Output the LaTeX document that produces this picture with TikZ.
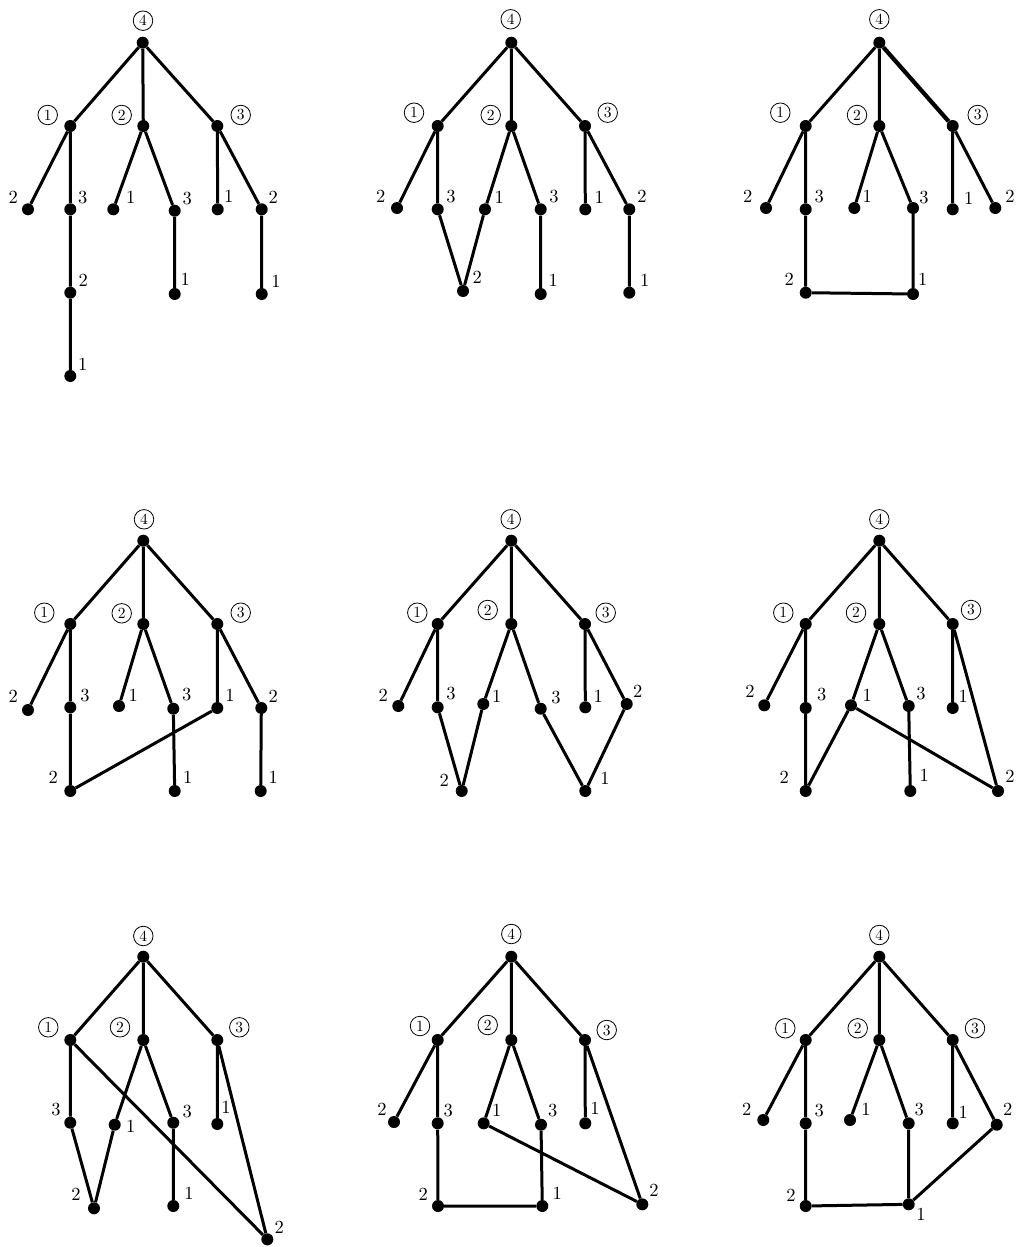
\documentclass[tikz,border=0pt]{standalone}
\newcommand\dg[1]{\scalebox{1.85}{#1}}
\newcommand\cg[1]{\scalebox{1.55}{#1}}
\begin{document}
\begin{tikzpicture}[x=1pt,y=-1pt,
  dot/.style={circle,fill=black,inner sep=0pt,minimum size=12pt},
  lnk/.style={line width=3pt},
  num/.style={inner sep=0pt,font=\fontsize{10}{12}\selectfont},
  cnum/.style={circle,draw,line width=0.8pt,inner sep=0pt,minimum size=19.5pt,font=\fontsize{10}{12}\selectfont}]
\useasboundingbox (0,0) rectangle (1016,1247);
% ---------- Panel 1 ----------
\node[dot] (p1r) at (142.7,42.7) {}; \node[cnum] (p1rl) at (143,20.7) {\cg{4}};
\node[dot] (p1a) at (70.3,126) {}; \node[cnum] (p1al) at (47.7,115) {\cg{1}};
\node[dot] (p1b) at (143.3,126) {}; \node[cnum] (p1bl) at (121.7,115) {\cg{2}};
\node[dot] (p1c) at (217.3,126) {}; \node[cnum] (p1cl) at (240.7,115) {\cg{3}};
\node[dot] (p1a2) at (28,209.3) {}; \node[num] (p1a2t) at (13.3,197.3) {\dg{2}};
\node[dot] (p1a3) at (70.3,209.3) {}; \node[num] (p1a3t) at (82.7,197.3) {\dg{3}};
\node[dot] (p1b1) at (113.3,209.3) {}; \node[num] (p1b1t) at (130.7,197.3) {\dg{1}};
\node[dot] (p1b3) at (174.7,210.7) {}; \node[num] (p1b3t) at (187.3,198.7) {\dg{3}};
\node[dot] (p1c1) at (217.7,209.3) {}; \node[num] (p1c1t) at (228.7,196.7) {\dg{1}};
\node[dot] (p1c2) at (261.7,209.3) {}; \node[num] (p1c2t) at (273.3,197.3) {\dg{2}};
\node[dot] (p1a32) at (70.3,292.7) {}; \node[num] (p1a32t) at (83.3,280) {\dg{2}};
\node[dot] (p1a321) at (70.3,376) {}; \node[num] (p1a321t) at (82.7,364) {\dg{1}};
\node[dot] (p1b31) at (174.7,294) {}; \node[num] (p1b31t) at (185.3,279.3) {\dg{1}};
\node[dot] (p1c21) at (261.7,294) {}; \node[num] (p1c21t) at (276,281) {\dg{1}};
\draw[lnk] (p1r)--(p1a) (p1r)--(p1b) (p1r)--(p1c)
  (p1a)--(p1a2) (p1a)--(p1a3) (p1a3)--(p1a32) (p1a32)--(p1a321)
  (p1b)--(p1b1) (p1b)--(p1b3) (p1b3)--(p1b31)
  (p1c)--(p1c1) (p1c)--(p1c2) (p1c2)--(p1c21);
% ---------- Panel 2 ----------
\node[dot] (p2r) at (511.3,42.7) {}; \node[cnum] (p2rl) at (510.7,19.3) {\cg{4}};
\node[dot] (p2a) at (437.7,126) {}; \node[cnum] (p2al) at (414,112.7) {\cg{1}};
\node[dot] (p2b) at (511.3,126) {}; \node[cnum] (p2bl) at (490.7,115) {\cg{2}};
\node[dot] (p2c) at (585,126) {}; \node[cnum] (p2cl) at (607.7,112.7) {\cg{3}};
\node[dot] (p2a2) at (397,208) {}; \node[num] (p2a2t) at (380.7,196.7) {\dg{2}};
\node[dot] (p2a3) at (437.7,209.3) {}; \node[num] (p2a3t) at (451,196.7) {\dg{3}};
\node[dot] (p2b1) at (485,209.3) {}; \node[num] (p2b1t) at (499.3,197.3) {\dg{1}};
\node[dot] (p2b3) at (540.7,209.3) {}; \node[num] (p2b3t) at (554,196.7) {\dg{3}};
\node[dot] (p2c1) at (585.3,209.3) {}; \node[num] (p2c1t) at (599.3,197.3) {\dg{1}};
\node[dot] (p2c2) at (629.3,209.3) {}; \node[num] (p2c2t) at (642,196.7) {\dg{2}};
\node[dot] (p2s) at (463,291) {}; \node[num] (p2st) at (477.3,277.3) {\dg{2}};
\node[dot] (p2b31) at (540.7,294) {}; \node[num] (p2b31t) at (553.3,280.7) {\dg{1}};
\node[dot] (p2c21) at (629.3,292.7) {}; \node[num] (p2c21t) at (644.7,280) {\dg{1}};
\draw[lnk] (p2r)--(p2a) (p2r)--(p2b) (p2r)--(p2c)
  (p2a)--(p2a2) (p2a)--(p2a3) (p2a3)--(p2s) (p2b1)--(p2s)
  (p2b)--(p2b1) (p2b)--(p2b3) (p2b3)--(p2b31)
  (p2c)--(p2c1) (p2c)--(p2c2) (p2c2)--(p2c21);
% ---------- Panel 3 ----------
\node[dot] (p3r) at (879.3,42.7) {}; \node[cnum] (p3rl) at (879.3,19.3) {\cg{4}};
\node[dot] (p3a) at (805.7,126) {}; \node[cnum] (p3al) at (780.3,112.7) {\cg{1}};
\node[dot] (p3b) at (879.3,126) {}; \node[cnum] (p3bl) at (857,115) {\cg{2}};
\node[dot] (p3c) at (952.7,126) {}; \node[cnum] (p3cl) at (977.7,115) {\cg{3}};
\node[dot] (p3a2) at (766,208) {}; \node[num] (p3a2t) at (747.7,196.7) {\dg{2}};
\node[dot] (p3a3) at (805.7,209.3) {}; \node[num] (p3a3t) at (819.3,196.7) {\dg{3}};
\node[dot] (p3b1) at (854.3,208) {}; \node[num] (p3b1t) at (867.3,196) {\dg{1}};
\node[dot] (p3b3) at (913,208) {}; \node[num] (p3b3t) at (924,198) {\dg{3}};
\node[dot] (p3c1) at (952.7,209.3) {}; \node[num] (p3c1t) at (968.7,198) {\dg{1}};
\node[dot] (p3c2) at (995.3,208) {}; \node[num] (p3c2t) at (1010,196.7) {\dg{2}};
\node[dot] (p3a32) at (805.7,292.7) {}; \node[num] (p3a32t) at (789.3,279.3) {\dg{2}};
\node[dot] (p3b31) at (913,294) {}; \node[num] (p3b31t) at (922.7,279.3) {\dg{1}};
\draw[lnk] (p3r)--(p3a) (p3r)--(p3b)
  (p3a)--(p3a2) (p3a)--(p3a3) (p3a3)--(p3a32) (p3a32)--(p3b31)
  (p3b)--(p3b1) (p3b)--(p3b3) (p3b3)--(p3b31)
  (p3c)--(p3c1) (p3c)--(p3c2);
\draw[line width=4.2pt] (p3r)--(p3c);
% ---------- Panel 4 ----------
\node[dot] (p4r) at (143.3,540.7) {}; \node[cnum] (p4rl) at (144,519.3) {\cg{4}};
\node[dot] (p4a) at (70.3,624) {}; \node[cnum] (p4al) at (44.3,612.7) {\cg{1}};
\node[dot] (p4b) at (143.3,624) {}; \node[cnum] (p4bl) at (121.7,613.3) {\cg{2}};
\node[dot] (p4c) at (217.3,624) {}; \node[cnum] (p4cl) at (240.7,612.7) {\cg{3}};
\node[dot] (p4a2) at (28,710) {}; \node[num] (p4a2t) at (13.3,696) {\dg{2}};
\node[dot] (p4a3) at (70.3,707.3) {}; \node[num] (p4a3t) at (85,696) {\dg{3}};
\node[dot] (p4b1) at (119,706) {}; \node[num] (p4b1t) at (133.3,695) {\dg{1}};
\node[dot] (p4b3) at (173.3,708.7) {}; \node[num] (p4b3t) at (186.7,695) {\dg{3}};
\node[dot] (p4c1) at (217.3,708) {}; \node[num] (p4c1t) at (230,695.3) {\dg{1}};
\node[dot] (p4c2) at (261.3,708) {}; \node[num] (p4c2t) at (273.3,696) {\dg{2}};
\node[dot] (p4a32) at (70.3,791) {}; \node[num] (p4a32t) at (53.3,777.3) {\dg{2}};
\node[dot] (p4b31) at (174.7,791) {}; \node[num] (p4b31t) at (187.7,777.3) {\dg{1}};
\node[dot] (p4c21) at (260.7,791) {}; \node[num] (p4c21t) at (273.3,777.3) {\dg{1}};
\draw[lnk] (p4r)--(p4a) (p4r)--(p4b) (p4r)--(p4c)
  (p4a)--(p4a2) (p4a)--(p4a3) (p4a3)--(p4a32) (p4a32)--(p4c1)
  (p4b)--(p4b1) (p4b)--(p4b3) (p4b3)--(p4b31)
  (p4c)--(p4c1) (p4c)--(p4c2) (p4c2)--(p4c21);
% ---------- Panel 5 ----------
\node[dot] (p5r) at (511.3,540.7) {}; \node[cnum] (p5rl) at (510.7,519.3) {\cg{4}};
\node[dot] (p5a) at (437.7,624) {}; \node[cnum] (p5al) at (417.3,612.7) {\cg{1}};
\node[dot] (p5b) at (511.3,624) {}; \node[cnum] (p5bl) at (487.7,610) {\cg{2}};
\node[dot] (p5c) at (585,624) {}; \node[cnum] (p5cl) at (605.7,612.7) {\cg{3}};
\node[dot] (p5a2) at (398.3,706) {}; \node[num] (p5a2t) at (383.3,695) {\dg{2}};
\node[dot] (p5a3) at (437.7,707.3) {}; \node[num] (p5a3t) at (451,693.3) {\dg{3}};
\node[dot] (p5b1) at (483.3,704) {}; \node[num] (p5b1t) at (496.7,696.7) {\dg{1}};
\node[dot] (p5b3) at (540.7,708.7) {}; \node[num] (p5b3t) at (556,697.3) {\dg{3}};
\node[dot] (p5c1) at (585.3,707.3) {}; \node[num] (p5c1t) at (598.3,696) {\dg{1}};
\node[dot] (p5c2) at (626.7,704) {}; \node[num] (p5c2t) at (637.7,691.7) {\dg{2}};
\node[dot] (p5s2) at (461.7,791) {}; \node[num] (p5s2t) at (444.3,780) {\dg{2}};
\node[dot] (p5s1) at (585.3,791) {}; \node[num] (p5s1t) at (605,778.3) {\dg{1}};
\draw[lnk] (p5r)--(p5a) (p5r)--(p5b) (p5r)--(p5c)
  (p5a)--(p5a2) (p5a)--(p5a3) (p5a3)--(p5s2) (p5b1)--(p5s2)
  (p5b)--(p5b1) (p5b)--(p5b3) (p5b3)--(p5s1) (p5c2)--(p5s1)
  (p5c)--(p5c1) (p5c)--(p5c2);
% ---------- Panel 6 ----------
\node[dot] (p6r) at (879.3,540.7) {}; \node[cnum] (p6rl) at (879.3,519.3) {\cg{4}};
\node[dot] (p6a) at (805.7,624) {}; \node[cnum] (p6al) at (783.3,612.7) {\cg{1}};
\node[dot] (p6b) at (879.3,624) {}; \node[cnum] (p6bl) at (856,612.7) {\cg{2}};
\node[dot] (p6c) at (952.7,624) {}; \node[cnum] (p6cl) at (971,610) {\cg{3}};
\node[dot] (p6a2) at (764.3,705.3) {}; \node[num] (p6a2t) at (750,691.7) {\dg{2}};
\node[dot] (p6a3) at (805.7,708) {}; \node[num] (p6a3t) at (821.7,695) {\dg{3}};
\node[dot] (p6b1) at (851,705.3) {}; \node[num] (p6b1t) at (867.3,695) {\dg{1}};
\node[dot] (p6b3) at (908.7,706) {}; \node[num] (p6b3t) at (921,693.3) {\dg{3}};
\node[dot] (p6c1) at (952.7,708) {}; \node[num] (p6c1t) at (963.3,696) {\dg{1}};
\node[dot] (p6a32) at (805.7,791) {}; \node[num] (p6a32t) at (784.3,777.3) {\dg{2}};
\node[dot] (p6b31) at (910.3,791) {}; \node[num] (p6b31t) at (924.3,775) {\dg{1}};
\node[dot] (p6c2) at (998,791) {}; \node[num] (p6c2t) at (1010,776.7) {\dg{2}};
\draw[lnk] (p6r)--(p6a) (p6r)--(p6b) (p6r)--(p6c)
  (p6a)--(p6a2) (p6a)--(p6a3) (p6a3)--(p6a32) (p6a32)--(p6b1) (p6b1)--(p6c2)
  (p6b)--(p6b1) (p6b)--(p6b3) (p6b3)--(p6b31)
  (p6c)--(p6c1) (p6c)--(p6c2);
% ---------- Panel 7 ----------
\node[dot] (p7r) at (143.3,956.7) {}; \node[cnum] (p7rl) at (143.3,936) {\cg{4}};
\node[dot] (p7a) at (70.3,1040) {}; \node[cnum] (p7al) at (48.3,1027.3) {\cg{1}};
\node[dot] (p7b) at (143.3,1040) {}; \node[cnum] (p7bl) at (120,1027.3) {\cg{2}};
\node[dot] (p7c) at (217.3,1040) {}; \node[cnum] (p7cl) at (239.3,1027.3) {\cg{3}};
\node[dot] (p7a3) at (70.3,1122.7) {}; \node[num] (p7a3t) at (56,1110) {\dg{3}};
\node[dot] (p7b1) at (114.7,1124.7) {}; \node[num] (p7b1t) at (130.7,1126) {\dg{1}};
\node[dot] (p7b3) at (173.3,1122.7) {}; \node[num] (p7b3t) at (187.3,1111.7) {\dg{3}};
\node[dot] (p7c1) at (217.3,1124) {}; \node[num] (p7c1t) at (226,1107.3) {\dg{1}};
\node[dot] (p7s2) at (94,1208.3) {}; \node[num] (p7s2t) at (76,1194) {\dg{2}};
\node[dot] (p7b31) at (173.3,1206) {}; \node[num] (p7b31t) at (189,1193.3) {\dg{1}};
\node[dot] (p7f2) at (267.3,1239.3) {}; \node[num] (p7f2t) at (279.3,1227.3) {\dg{2}};
\draw[lnk] (p7r)--(p7a) (p7r)--(p7b) (p7r)--(p7c)
  (p7a)--(p7a3) (p7a)--(p7f2) (p7a3)--(p7s2) (p7b1)--(p7s2)
  (p7b)--(p7b1) (p7b)--(p7b3) (p7b3)--(p7b31)
  (p7c)--(p7c1) (p7c)--(p7f2);
% ---------- Panel 8 ----------
\node[dot] (p8r) at (511.3,956.7) {}; \node[cnum] (p8rl) at (511.3,934) {\cg{4}};
\node[dot] (p8a) at (437.7,1040) {}; \node[cnum] (p8al) at (420,1026) {\cg{1}};
\node[dot] (p8b) at (511.3,1040) {}; \node[cnum] (p8bl) at (487.7,1025) {\cg{2}};
\node[dot] (p8c) at (585,1040) {}; \node[cnum] (p8cl) at (606.7,1030) {\cg{3}};
\node[dot] (p8a2) at (394,1122) {}; \node[num] (p8a2t) at (382,1109.3) {\dg{2}};
\node[dot] (p8a3) at (437.7,1123.3) {}; \node[num] (p8a3t) at (448.3,1110.7) {\dg{3}};
\node[dot] (p8b1) at (483.7,1123.3) {}; \node[num] (p8b1t) at (496.7,1110.7) {\dg{1}};
\node[dot] (p8b3) at (541,1124.7) {}; \node[num] (p8b3t) at (552.7,1110.7) {\dg{3}};
\node[dot] (p8c1) at (585.3,1123.3) {}; \node[num] (p8c1t) at (595,1108.3) {\dg{1}};
\node[dot] (p8a32) at (438,1206) {}; \node[num] (p8a32t) at (423.3,1194) {\dg{2}};
\node[dot] (p8b31) at (542.3,1206) {}; \node[num] (p8b31t) at (557.3,1193.3) {\dg{1}};
\node[dot] (p8c2) at (642.3,1204.3) {}; \node[num] (p8c2t) at (654,1190.7) {\dg{2}};
\draw[lnk] (p8r)--(p8a) (p8r)--(p8b) (p8r)--(p8c)
  (p8a)--(p8a2) (p8a)--(p8a3) (p8a3)--(p8a32) (p8a32)--(p8b31)
  (p8b)--(p8b1) (p8b)--(p8b3) (p8b3)--(p8b31) (p8b1)--(p8c2)
  (p8c)--(p8c1) (p8c)--(p8c2);
% ---------- Panel 9 ----------
\node[dot] (p9r) at (879.3,956.7) {}; \node[cnum] (p9rl) at (879.3,935) {\cg{4}};
\node[dot] (p9a) at (805.7,1040) {}; \node[cnum] (p9al) at (785.3,1028.3) {\cg{1}};
\node[dot] (p9b) at (879.3,1040) {}; \node[cnum] (p9bl) at (857.7,1028.3) {\cg{2}};
\node[dot] (p9c) at (952.7,1040) {}; \node[cnum] (p9cl) at (975,1028.3) {\cg{3}};
\node[dot] (p9a2) at (763.3,1120) {}; \node[num] (p9a2t) at (746.7,1109.3) {\dg{2}};
\node[dot] (p9a3) at (805.7,1123.3) {}; \node[num] (p9a3t) at (819.3,1110.7) {\dg{3}};
\node[dot] (p9b1) at (850,1120) {}; \node[num] (p9b1t) at (866,1109.3) {\dg{1}};
\node[dot] (p9b3) at (908.7,1123.3) {}; \node[num] (p9b3t) at (919.3,1109.3) {\dg{3}};
\node[dot] (p9c1) at (952.7,1123.3) {}; \node[num] (p9c1t) at (963.3,1112.7) {\dg{1}};
\node[dot] (p9c2) at (996.7,1124.7) {}; \node[num] (p9c2t) at (1007.7,1109.3) {\dg{2}};
\node[dot] (p9a32) at (805.7,1206) {}; \node[num] (p9a32t) at (791,1195) {\dg{2}};
\node[dot] (p9s1) at (908.7,1204.3) {}; \node[num] (p9s1t) at (921,1214) {\dg{1}};
\draw[lnk] (p9r)--(p9a) (p9r)--(p9b) (p9r)--(p9c)
  (p9a)--(p9a2) (p9a)--(p9a3) (p9a3)--(p9a32) (p9a32)--(p9s1)
  (p9b)--(p9b1) (p9b)--(p9b3) (p9b3)--(p9s1) (p9c2)--(p9s1)
  (p9c)--(p9c1) (p9c)--(p9c2);
\end{tikzpicture}
\end{document}
